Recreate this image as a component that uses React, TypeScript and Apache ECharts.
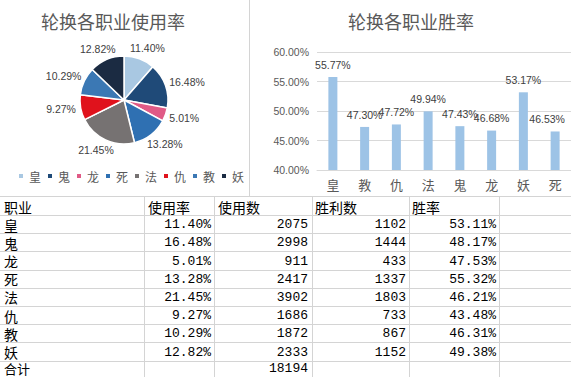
import React, { useEffect, useRef } from 'react';
import * as echarts from 'echarts';

// ---- data ----
const classes = ['皇', '鬼', '龙', '死', '法', '仇', '教', '妖'];
const usageRates = [11.4, 16.48, 5.01, 13.28, 21.45, 9.27, 10.29, 12.82];
const usageCounts = [2075, 2998, 911, 2417, 3902, 1686, 1872, 2333];
const winCounts = [1102, 1444, 433, 1337, 1803, 733, 867, 1152];
const tableWinRates = [53.11, 48.17, 47.53, 55.32, 46.21, 43.48, 46.31, 49.38];
const totalLabel = '合计';
const totalUsage = 18194;
const tableHeaders = ['职业', '使用率', '使用数', '胜利数', '胜率'];

const barCategories = ['皇', '教', '仇', '法', '鬼', '龙', '妖', '死'];
const barWinRates = [55.77, 47.3, 47.72, 49.94, 47.43, 46.68, 53.17, 46.53];

const pieTitle = '轮换各职业使用率';
const barTitle = '轮换各职业胜率';

// ---- styles ----
const pieColors = ['#a9c8e2', '#1f4a78', '#e05a86', '#2f70b2', '#767272', '#e0121c', '#3b78b4', '#1b2b42'];
const GRAY = '#595959';
const LINE = '#d4d4d4';
const PIE_C = [124, 100];
const PIE_R = 44;
const LABEL_R = 49;
const LABEL_FS = 10.5;

const colX = [144, 214, 312, 409, 499];
const rowTop = 196;
const headerBottom = 215;
const rowH = 18.2;

const pctText = (v: number) => v.toFixed(2) + '%';
// approximate width of a percentage label in Liberation Sans
const pctWidth = (s: string) => {
  let w = 0;
  for (const ch of s) w += ch === '.' ? 0.278 : ch === '%' ? 0.889 : 0.556;
  return w * LABEL_FS;
};

export default function App() {
  const ref = useRef<HTMLDivElement>(null);
  useEffect(() => {
    document.body.style.margin = '0';
    const chart = echarts.init(ref.current!, undefined, { renderer: 'svg' });

    const total = usageRates.reduce((a, b) => a + b, 0);
    const midAngle = (i: number) => {
      let cum = 0;
      for (let j = 0; j < i; j++) cum += usageRates[j];
      return ((cum + usageRates[i] / 2) / total) * Math.PI * 2;
    };

    const graphics: any[] = [];
    graphics.push({ type: 'line', shape: { x1: 249.5, y1: 0, x2: 249.5, y2: 196 }, style: { stroke: LINE, lineWidth: 1 } });
    graphics.push({ type: 'text', style: { text: pieTitle, x: 113, y: 21, align: 'center', verticalAlign: 'middle', fontSize: 18, fontFamily: 'Noto Sans CJK SC', fill: GRAY } });
    graphics.push({ type: 'text', style: { text: barTitle, x: 411, y: 21, align: 'center', verticalAlign: 'middle', fontSize: 18, fontFamily: 'Noto Sans CJK SC', fill: GRAY } });

    const rowLines = [rowTop, headerBottom];
    for (let k = 1; k <= classes.length + 1; k++) rowLines.push(headerBottom + rowH * k);
    rowLines.forEach((y) => {
      const yy = Math.round(y) + 0.5;
      graphics.push({ type: 'line', shape: { x1: 0, y1: yy, x2: 571, y2: yy }, style: { stroke: LINE, lineWidth: 1 } });
    });
    colX.forEach((x) => {
      graphics.push({ type: 'line', shape: { x1: x + 0.5, y1: rowTop, x2: x + 0.5, y2: 377 }, style: { stroke: LINE, lineWidth: 1 } });
    });

    const cjk = { fontSize: 14, fontFamily: 'Noto Sans CJK SC', fill: '#000', lineHeight: 14 };
    const mono = { fontSize: 13, fontFamily: 'Liberation Mono', fill: '#000', lineHeight: 14 };
    const headerX = [4, 148, 218, 315, 412];
    const headerY = (rowTop + headerBottom) / 2 + 1;
    tableHeaders.forEach((h, i) => {
      graphics.push({ type: 'text', style: { ...cjk, text: h, x: headerX[i], y: headerY, align: 'left', verticalAlign: 'middle' } });
    });
    const rightX = [211, 308, 406, 496];
    classes.forEach((c, r) => {
      const y = headerBottom + rowH * r + rowH / 2 + 0.5;
      graphics.push({ type: 'text', style: { ...cjk, text: c, x: 4, y, align: 'left', verticalAlign: 'middle' } });
      const vals = [pctText(usageRates[r]), String(usageCounts[r]), String(winCounts[r]), pctText(tableWinRates[r])];
      vals.forEach((v, k) => {
        graphics.push({ type: 'text', style: { ...mono, text: v, x: rightX[k], y, align: 'right', verticalAlign: 'middle' } });
      });
    });
    const ty = 368.5;
    graphics.push({ type: 'text', style: { ...cjk, fontSize: 13, lineHeight: 13, text: totalLabel, x: 4, y: ty, align: 'left', verticalAlign: 'middle' } });
    graphics.push({ type: 'text', style: { ...mono, text: String(totalUsage), x: rightX[1], y: ty, align: 'right', verticalAlign: 'middle' } });

    const option: any = {
      animation: false,
      backgroundColor: '#fff',
      textStyle: { fontFamily: 'Liberation Sans, Noto Sans CJK SC' },
      legend: {
        left: 17,
        top: 170,
        padding: 0,
        icon: 'rect',
        itemWidth: 6,
        itemHeight: 6,
        itemGap: 5,
        textStyle: { fontSize: 12, color: GRAY, fontFamily: 'Noto Sans CJK SC' },
        data: classes,
        selectedMode: false,
      },
      grid: { left: 317, right: 0, top: 52, bottom: 207, containLabel: false },
      xAxis: {
        type: 'category',
        data: barCategories,
        axisLine: { lineStyle: { color: '#d9d9d9' } },
        axisTick: { show: false },
        axisLabel: { fontSize: 13, color: GRAY, margin: 8, fontFamily: 'Noto Sans CJK SC' },
      },
      yAxis: {
        type: 'value',
        min: 40,
        max: 60,
        interval: 5,
        axisLine: { show: false },
        axisTick: { show: false },
        splitLine: { lineStyle: { color: '#d9d9d9' } },
        axisLabel: { fontSize: 10.5, color: GRAY, margin: 8, formatter: (v: number) => pctText(v) },
      },
      series: [
        {
          type: 'pie',
          center: PIE_C,
          radius: PIE_R,
          startAngle: 90,
          clockwise: true,
          color: pieColors,
          itemStyle: { borderColor: '#fff', borderWidth: 1.5 },
          emphasis: { disabled: true },
          label: {
            show: true,
            position: 'outside',
            fontSize: LABEL_FS,
            color: '#404040',
            formatter: (p: any) => pctText(p.value),
          },
          labelLine: { show: false, length: 4, length2: 0 },
          labelLayout: (p: any) => {
            const i = p.dataIndex;
            const a = midAngle(i);
            const ux = Math.sin(a);
            const uy = -Math.cos(a);
            const w = pctWidth(pctText(usageRates[i]));
            const h = 12;
            return {
              x: PIE_C[0] + LABEL_R * ux + (w / 2) * ux,
              y: PIE_C[1] + LABEL_R * uy + (h / 2) * uy,
              align: 'center',
              verticalAlign: 'middle',
            };
          },
          data: classes.map((c, i) => ({ name: c, value: usageRates[i] })),
        },
        {
          type: 'bar',
          data: barWinRates.map((v, i) =>
            i === barWinRates.length - 1 ? { value: v, label: { offset: [-8, 0] } } : v
          ),
          barWidth: 9,
          itemStyle: { color: '#9dc3e6' },
          label: {
            show: true,
            position: 'top',
            distance: 7,
            fontSize: 10.5,
            color: '#404040',
            formatter: (p: any) => pctText(p.value),
          },
        },
      ],
      graphic: graphics,
    };
    chart.setOption(option);
    return () => chart.dispose();
  }, []);
  return <div ref={ref} style={{ width: 571, height: 377, background: '#fff' }} />;
}
